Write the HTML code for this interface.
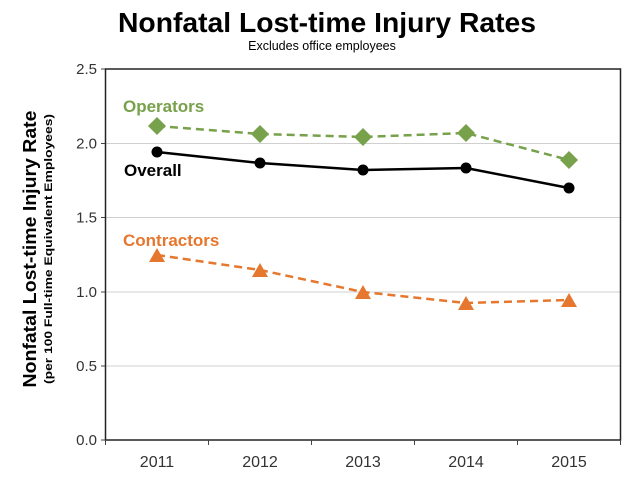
<!DOCTYPE html>
<html><head><meta charset="utf-8"><style>
body{margin:0;background:#fff;}
svg{display:block;font-family:"Liberation Sans",Arial,sans-serif;}
</style></head><body>
<svg width="640" height="480" viewBox="0 0 640 480">
<rect width="640" height="480" fill="#fff"/>
<text x="327" y="32" text-anchor="middle" font-size="28" font-weight="bold" textLength="418" lengthAdjust="spacingAndGlyphs">Nonfatal Lost-time Injury Rates</text>
<text x="322" y="50" text-anchor="middle" font-size="12.5">Excludes office employees</text>
<g stroke="#d0d0d0" stroke-width="1">
<line x1="105.5" y1="143.5" x2="620.5" y2="143.5"/>
<line x1="105.5" y1="217.5" x2="620.5" y2="217.5"/>
<line x1="105.5" y1="292" x2="620.5" y2="292"/>
<line x1="105.5" y1="366" x2="620.5" y2="366"/>
</g>
<rect x="105.5" y="69" width="515" height="371" fill="none" stroke="#222" stroke-width="1.5"/>
<g stroke="#444" stroke-width="1">
<line x1="101" y1="69" x2="105" y2="69"/><line x1="101" y1="143.5" x2="105" y2="143.5"/>
<line x1="101" y1="217.5" x2="105" y2="217.5"/><line x1="101" y1="292" x2="105" y2="292"/>
<line x1="101" y1="366" x2="105" y2="366"/><line x1="101" y1="440" x2="105" y2="440"/>
<line x1="105.5" y1="440" x2="105.5" y2="445"/><line x1="208.5" y1="440" x2="208.5" y2="445"/>
<line x1="311.5" y1="440" x2="311.5" y2="445"/><line x1="414.5" y1="440" x2="414.5" y2="445"/>
<line x1="517.5" y1="440" x2="517.5" y2="445"/><line x1="620.5" y1="440" x2="620.5" y2="445"/>
</g>
<g font-size="15" fill="#333" text-anchor="end">
<text x="97" y="74">2.5</text><text x="97" y="148.5">2.0</text><text x="97" y="222.5">1.5</text>
<text x="97" y="297">1.0</text><text x="97" y="371">0.5</text><text x="97" y="445">0.0</text>
</g>
<g font-size="16" fill="#333" text-anchor="middle">
<text x="157" y="467">2011</text><text x="260" y="467">2012</text><text x="363" y="467">2013</text>
<text x="466" y="467">2014</text><text x="569" y="467">2015</text>
</g>
<text transform="translate(36,249) rotate(-90)" text-anchor="middle" font-size="18" font-weight="bold" textLength="277" lengthAdjust="spacingAndGlyphs">Nonfatal Lost-time Injury Rate</text>
<text transform="translate(52,249) rotate(-90)" text-anchor="middle" font-size="11" font-weight="bold" textLength="270" lengthAdjust="spacingAndGlyphs">(per 100 Full-time Equivalent Employees)</text>
<polyline points="157,126 260,134 363,137 466,133 569,160" fill="none" stroke="#77a14a" stroke-width="2.5" stroke-dasharray="8,5"/>
<g fill="#77a14a">
<polygon points="157,117 166,126 157,135 148,126"/><polygon points="260,125 269,134 260,143 251,134"/>
<polygon points="363,128 372,137 363,146 354,137"/><polygon points="466,124 475,133 466,142 457,133"/>
<polygon points="569,151 578,160 569,169 560,160"/>
</g>
<polyline points="157,152 260,163 363,170 466,168 569,188" fill="none" stroke="#000" stroke-width="2.5"/>
<g fill="#000"><circle cx="157" cy="152" r="5.5"/><circle cx="260" cy="163" r="5.5"/><circle cx="363" cy="170" r="5.5"/><circle cx="466" cy="168" r="5.5"/><circle cx="569" cy="188" r="5.5"/></g>
<polyline points="157,255 260,270 363,292 466,303 569,300" fill="none" stroke="#e6772e" stroke-width="2.5" stroke-dasharray="8,5"/>
<g fill="#e6772e">
<polygon points="157,248 165,262 149,262"/><polygon points="260,263 268,277 252,277"/>
<polygon points="363,285 371,299 355,299"/><polygon points="466,296 474,310 458,310"/>
<polygon points="569,293 577,307 561,307"/>
</g>
<g font-size="17" font-weight="bold">
<text x="123" y="112" fill="#77a14a">Operators</text>
<text x="124" y="176" fill="#000">Overall</text>
<text x="123" y="246" fill="#e6772e">Contractors</text>
</g>
</svg>
</body></html>
